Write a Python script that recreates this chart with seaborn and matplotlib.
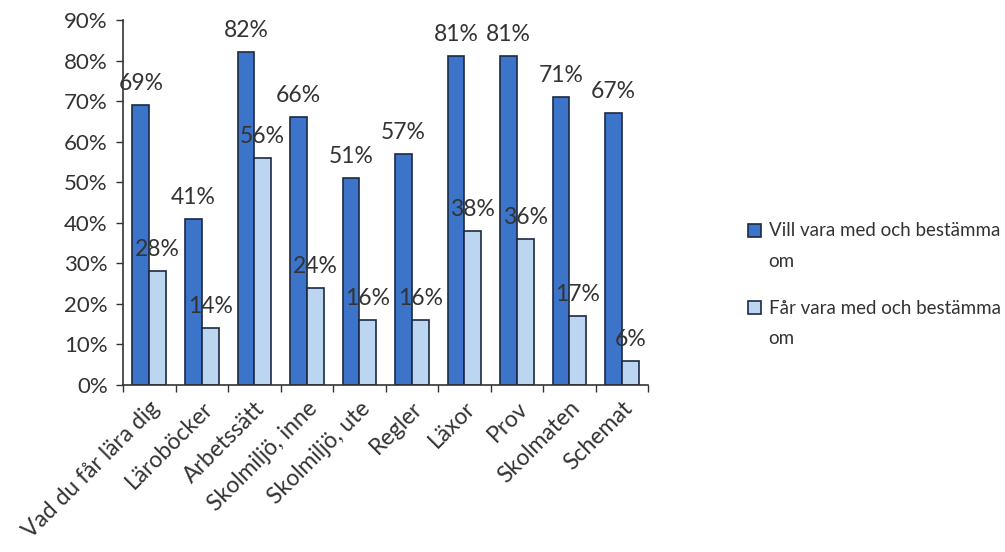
import matplotlib
matplotlib.use("Agg")
import matplotlib.pyplot as plt
import matplotlib.patches as mpatches
from matplotlib.legend_handler import HandlerPatch
import numpy as np
import pandas as pd
import seaborn as sns
from matplotlib.ticker import FixedLocator, PercentFormatter

categories = ["Vad du får lära dig", "Läroböcker", "Arbetssätt", "Skolmiljö, inne",
              "Skolmiljö, ute", "Regler", "Läxor", "Prov", "Skolmaten", "Schemat"]
vill = [69, 41, 82, 66, 51, 57, 81, 81, 71, 67]
far = [28, 14, 56, 24, 16, 16, 38, 36, 17, 6]
series = ["Vill vara med och bestämma\nom", "Får vara med och bestämma\nom"]

df = pd.DataFrame({
    "Område": categories * 2,
    "Andel": vill + far,
    "Serie": [series[0]] * len(categories) + [series[1]] * len(categories),
})

sns.set_style("white")
plt.rcParams["font.family"] = ["Lato", "DejaVu Sans"]

palette = {series[0]: "#3b74c9", series[1]: "#bcd6f2"}

fig = plt.figure(figsize=(10.05, 5.52), dpi=100)
ax = fig.add_axes([0.1224, 0.3025, 0.5226, 0.6613])
sns.barplot(data=df, x="Område", y="Andel", hue="Serie", palette=palette,
            width=0.64, gap=0, edgecolor="#1c2a45", linewidth=1.2,
            saturation=1, ax=ax, legend=True)

for cont in ax.containers:
    ax.bar_label(cont, labels=[f"{v:.0f}%" for v in cont.datavalues],
                 fontsize=16.5, color="#333333", padding=8)

ax.set_ylim(0, 90)
ax.set_xlim(-0.5, len(categories) - 0.5)
ax.set_yticks(np.arange(0, 91, 10))
ax.yaxis.set_major_formatter(PercentFormatter(decimals=0))
ax.tick_params(axis="y", labelsize=16, colors="#333333", length=5, width=1,
               direction="out", left=True, pad=6)
ax.tick_params(axis="x", which="major", length=0, labelsize=16.5, labelcolor="#333333", pad=9)
ax.xaxis.set_minor_locator(FixedLocator(np.arange(-0.5, len(categories), 1.0)))
ax.tick_params(axis="x", which="minor", length=5, width=1, direction="out",
               bottom=True, color="#333333")
for lab in ax.get_xticklabels():
    lab.set_rotation(45)
    lab.set_ha("right")
    lab.set_rotation_mode("anchor")
ax.set_xlabel("")
ax.set_ylabel("")
for s in ["top", "right"]:
    ax.spines[s].set_visible(False)
for s in ["left", "bottom"]:
    ax.spines[s].set_color("#333333")
    ax.spines[s].set_linewidth(1.2)


# legend squares sit next to the first text line
def top_square(legend, orig_handle, xdescent, ydescent, width, height, fontsize):
    return mpatches.Rectangle((-xdescent, -ydescent + 11.5), width, height)


handles, labels = ax.get_legend_handles_labels()
leg = ax.legend(handles, labels, loc="center left", bbox_to_anchor=(1.19, 0.275),
                frameon=False, borderaxespad=0, borderpad=0,
                fontsize=13.5, handlelength=0.7, handleheight=0.7, handletextpad=0.4,
                labelspacing=1.6, labelcolor="#333333",
                handler_map={mpatches.Rectangle: HandlerPatch(patch_func=top_square)})
for t in leg.get_texts():
    t.set_linespacing(1.95)

fig.savefig("out.png", dpi=100, facecolor="white")
